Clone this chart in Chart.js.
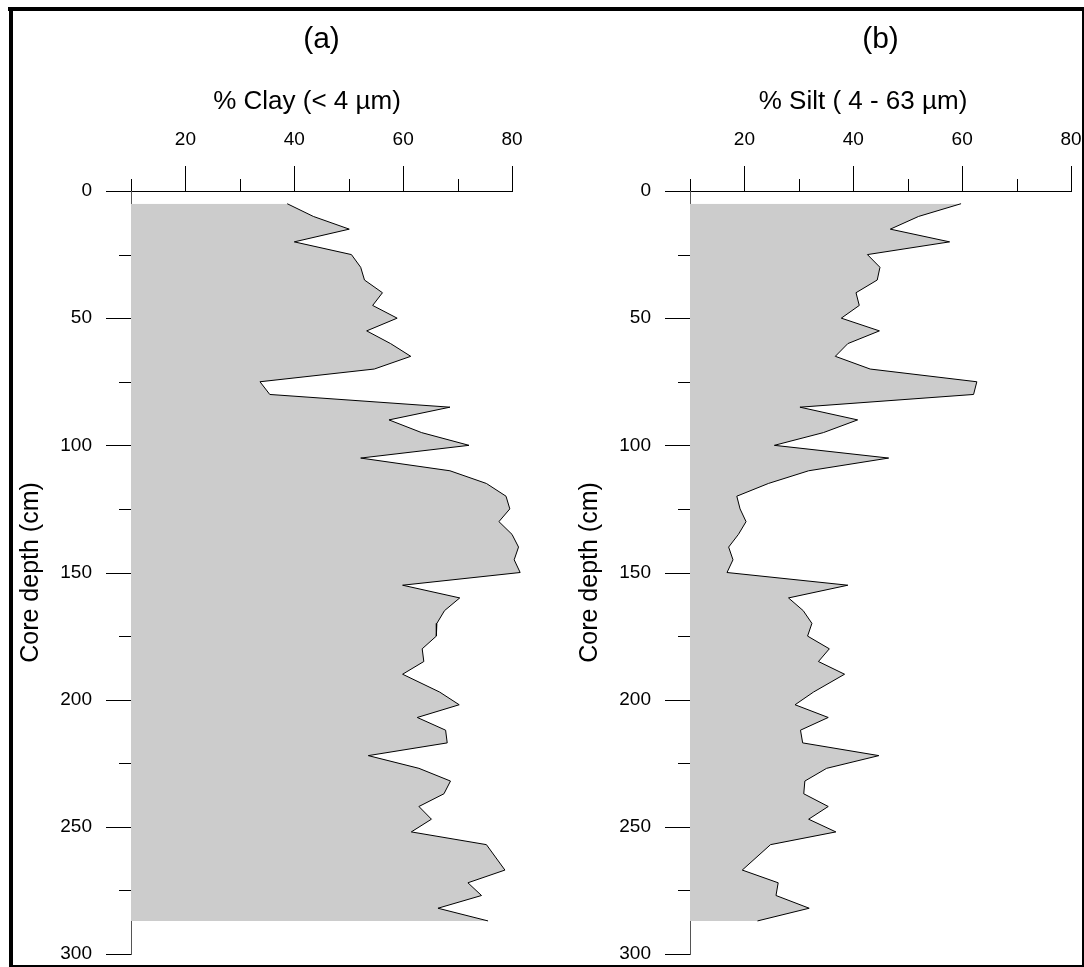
<!DOCTYPE html>
<html>
<head>
<meta charset="utf-8">
<script src="https://cdn.jsdelivr.net/npm/chart.js@4.4.0/dist/chart.umd.min.js"></script>
<style>
  html, body { margin: 0; padding: 0; background: #fff; }
  #page { position: relative; width: 1084px; height: 967px; overflow: hidden; }
  .panel { position: absolute; top: 0; height: 967px; }
  #wrapA { left: 0; width: 559px; }
  #wrapB { left: 559px; width: 525px; }
  .edge { position: absolute; background: #000; z-index: 5; }
</style>
</head>
<body>
<div id="page">
  <div class="panel" id="wrapA"><canvas id="clayChart"></canvas></div>
  <div class="panel" id="wrapB"><canvas id="siltChart"></canvas></div>
  <div class="edge" style="left:8px;top:7px;width:1076px;height:4px"></div>
  <div class="edge" style="left:9px;top:7px;width:4px;height:960px"></div>
  <div class="edge" style="left:1082px;top:7px;width:2px;height:960px"></div>
  <div class="edge" style="left:9px;top:965px;width:1075px;height:2px"></div>
</div>
<script>
// sample depths (cm) down the core
const depths = [5, 10, 15, 20, 25, 30, 35, 40, 45, 50, 55, 60, 65, 70, 75, 80, 85, 90, 95, 100,
  105, 110, 115, 120, 125, 130, 135, 140, 145, 150, 155, 160, 165, 170, 175, 180, 185, 190,
  197, 202, 207, 212, 217, 222, 227, 232, 237, 242, 247, 252, 257, 267, 272, 277, 282, 287];

// % clay (< 4 um)
const clay = [38.7, 43.5, 50.1, 40.0, 50.5, 52.2, 52.9, 56.2, 54.4, 58.9, 53.3, 57.7, 61.4, 54.7, 33.7, 35.5, 68.6, 57.4, 63.4, 72.1,
  52.2, 68.6, 75.3, 78.9, 79.6, 77.6, 80.0, 81.2, 80.4, 81.5, 59.9, 70.4, 67.6, 66.2, 66.1, 63.5, 63.8, 59.9,
  66.7, 70.3, 62.6, 67.8, 68.1, 53.6, 62.9, 68.7, 67.5, 62.9, 65.2, 61.5, 75.3, 78.7, 71.9, 74.4, 66.4, 75.6];

// % silt (4 - 63 um)
const silt = [59.8, 52.0, 46.8, 57.7, 42.6, 44.9, 44.4, 40.5, 41.1, 37.8, 44.8, 39.0, 36.7, 43.1, 62.7, 62.1, 30.2, 40.8, 34.5, 25.5,
  46.5, 31.8, 24.4, 18.6, 19.2, 20.3, 18.9, 17.1, 17.9, 16.8, 39.0, 28.1, 30.8, 32.4, 31.6, 35.6, 33.6, 38.4,
  32.7, 29.3, 35.4, 30.3, 30.7, 44.7, 35.1, 31.1, 30.9, 35.4, 31.8, 36.8, 24.8, 19.6, 26.2, 25.8, 31.9, 22.4];

// labelled (major) ticks; the others get short unlabelled marks
const depthLabels = [0, 50, 100, 150, 200, 250, 300];
const pctLabels = [20, 40, 60, 80];

const FONT = '"Liberation Sans", Arial, Helvetica, sans-serif';

// let the gray fill run a little past 80 % like the line does
const unclipFill = {
    id: 'unclipFill',
    beforeDatasetsDraw(chart) {
        chart.$savedRight = chart.chartArea.right;
        chart.chartArea.right += 15;
    },
    afterDatasetsDraw(chart) {
        chart.chartArea.right = chart.$savedRight;
    }
};

// tick marks of two lengths + the variable name above the axis
const axisMarks = {
    id: 'axisMarks',
    afterDraw(chart, args, opts) {
        const { ctx, chartArea, scales: { x, y } } = chart;
        ctx.save();
        ctx.strokeStyle = '#000';
        ctx.lineWidth = 1;
        ctx.beginPath();
        y.ticks.forEach(t => {
            const py = Math.round(y.getPixelForValue(t.value)) + 0.5;
            const len = depthLabels.includes(t.value) ? 25 : 12;
            ctx.moveTo(chartArea.left - len, py);
            ctx.lineTo(chartArea.left, py);
        });
        x.ticks.forEach(t => {
            const px = Math.round(x.getPixelForValue(t.value)) + 0.5;
            const len = pctLabels.includes(t.value) ? 25 : 12;
            ctx.moveTo(px, chartArea.top - len);
            ctx.lineTo(px, chartArea.top);
        });
        ctx.stroke();

        ctx.fillStyle = '#000';
        ctx.font = '26px ' + FONT;
        ctx.textAlign = 'center';
        ctx.textBaseline = 'middle';
        ctx.fillText(opts.name, (chartArea.left + chartArea.right) / 2 + opts.shift, chartArea.top - 89);
        ctx.restore();
    }
};

function makeProfile(id, values, letter, name, shift, padRight) {
    return new Chart(document.getElementById(id), {
        type: 'line',
        data: {
            datasets: [{
                data: depths.map((d, i) => ({ x: values[i], y: d })),
                borderColor: '#000',
                borderWidth: 1,
                backgroundColor: '#cccccc',
                fill: { value: 10 },
                pointRadius: 0,
                tension: 0,
                clip: false
            }]
        },
        options: {
            indexAxis: 'y',
            responsive: true,
            maintainAspectRatio: false,
            animation: false,
            layout: { padding: { left: 14, right: padRight, top: 0, bottom: 13 } },
            plugins: {
                legend: { display: false },
                tooltip: { enabled: false },
                title: {
                    display: true,
                    text: letter,
                    fullSize: false,
                    color: '#000',
                    font: { family: FONT, size: 30, weight: 'normal' },
                    padding: { top: 22, bottom: 0 }
                },
                axisMarks: { name: name, shift: shift }
            },
            scales: {
                x: {
                    type: 'linear',
                    position: 'top',
                    min: 10,
                    max: 80,
                    afterFit: s => { s.height = 133; },
                    // invisible tick marks only push the labels away; visible ones come from axisMarks
                    grid: { drawOnChartArea: false, drawTicks: true, tickLength: 40, tickColor: 'rgba(0,0,0,0)' },
                    border: { color: '#000', width: 1 },
                    ticks: {
                        stepSize: 10,
                        padding: 0,
                        color: '#000',
                        font: { family: FONT, size: 19 },
                        callback: v => pctLabels.includes(v) ? String(v) : ''
                    }
                },
                y: {
                    type: 'linear',
                    reverse: true,
                    min: 0,
                    max: 300,
                    afterFit: s => { s.width = 117; },
                    grid: { drawOnChartArea: false, drawTicks: true, tickLength: 39, tickColor: 'rgba(0,0,0,0)' },
                    border: { color: '#555', width: 1 },
                    ticks: {
                        stepSize: 25,
                        padding: 0,
                        color: '#000',
                        font: { family: FONT, size: 19 },
                        callback: v => depthLabels.includes(v) ? String(v) : ''
                    },
                    title: {
                        display: true,
                        text: 'Core depth (cm)',
                        color: '#000',
                        font: { family: FONT, size: 25 },
                        padding: { top: 2, bottom: 0 }
                    }
                }
            }
        },
        plugins: [unclipFill, axisMarks]
    });
}

makeProfile('clayChart', clay, '(a)', '% Clay (< 4 µm)', -14.5, 47);
makeProfile('siltChart', silt, '(b)', '% Silt ( 4 - 63 µm)', -17.5, 13);
</script>
</body>
</html>
